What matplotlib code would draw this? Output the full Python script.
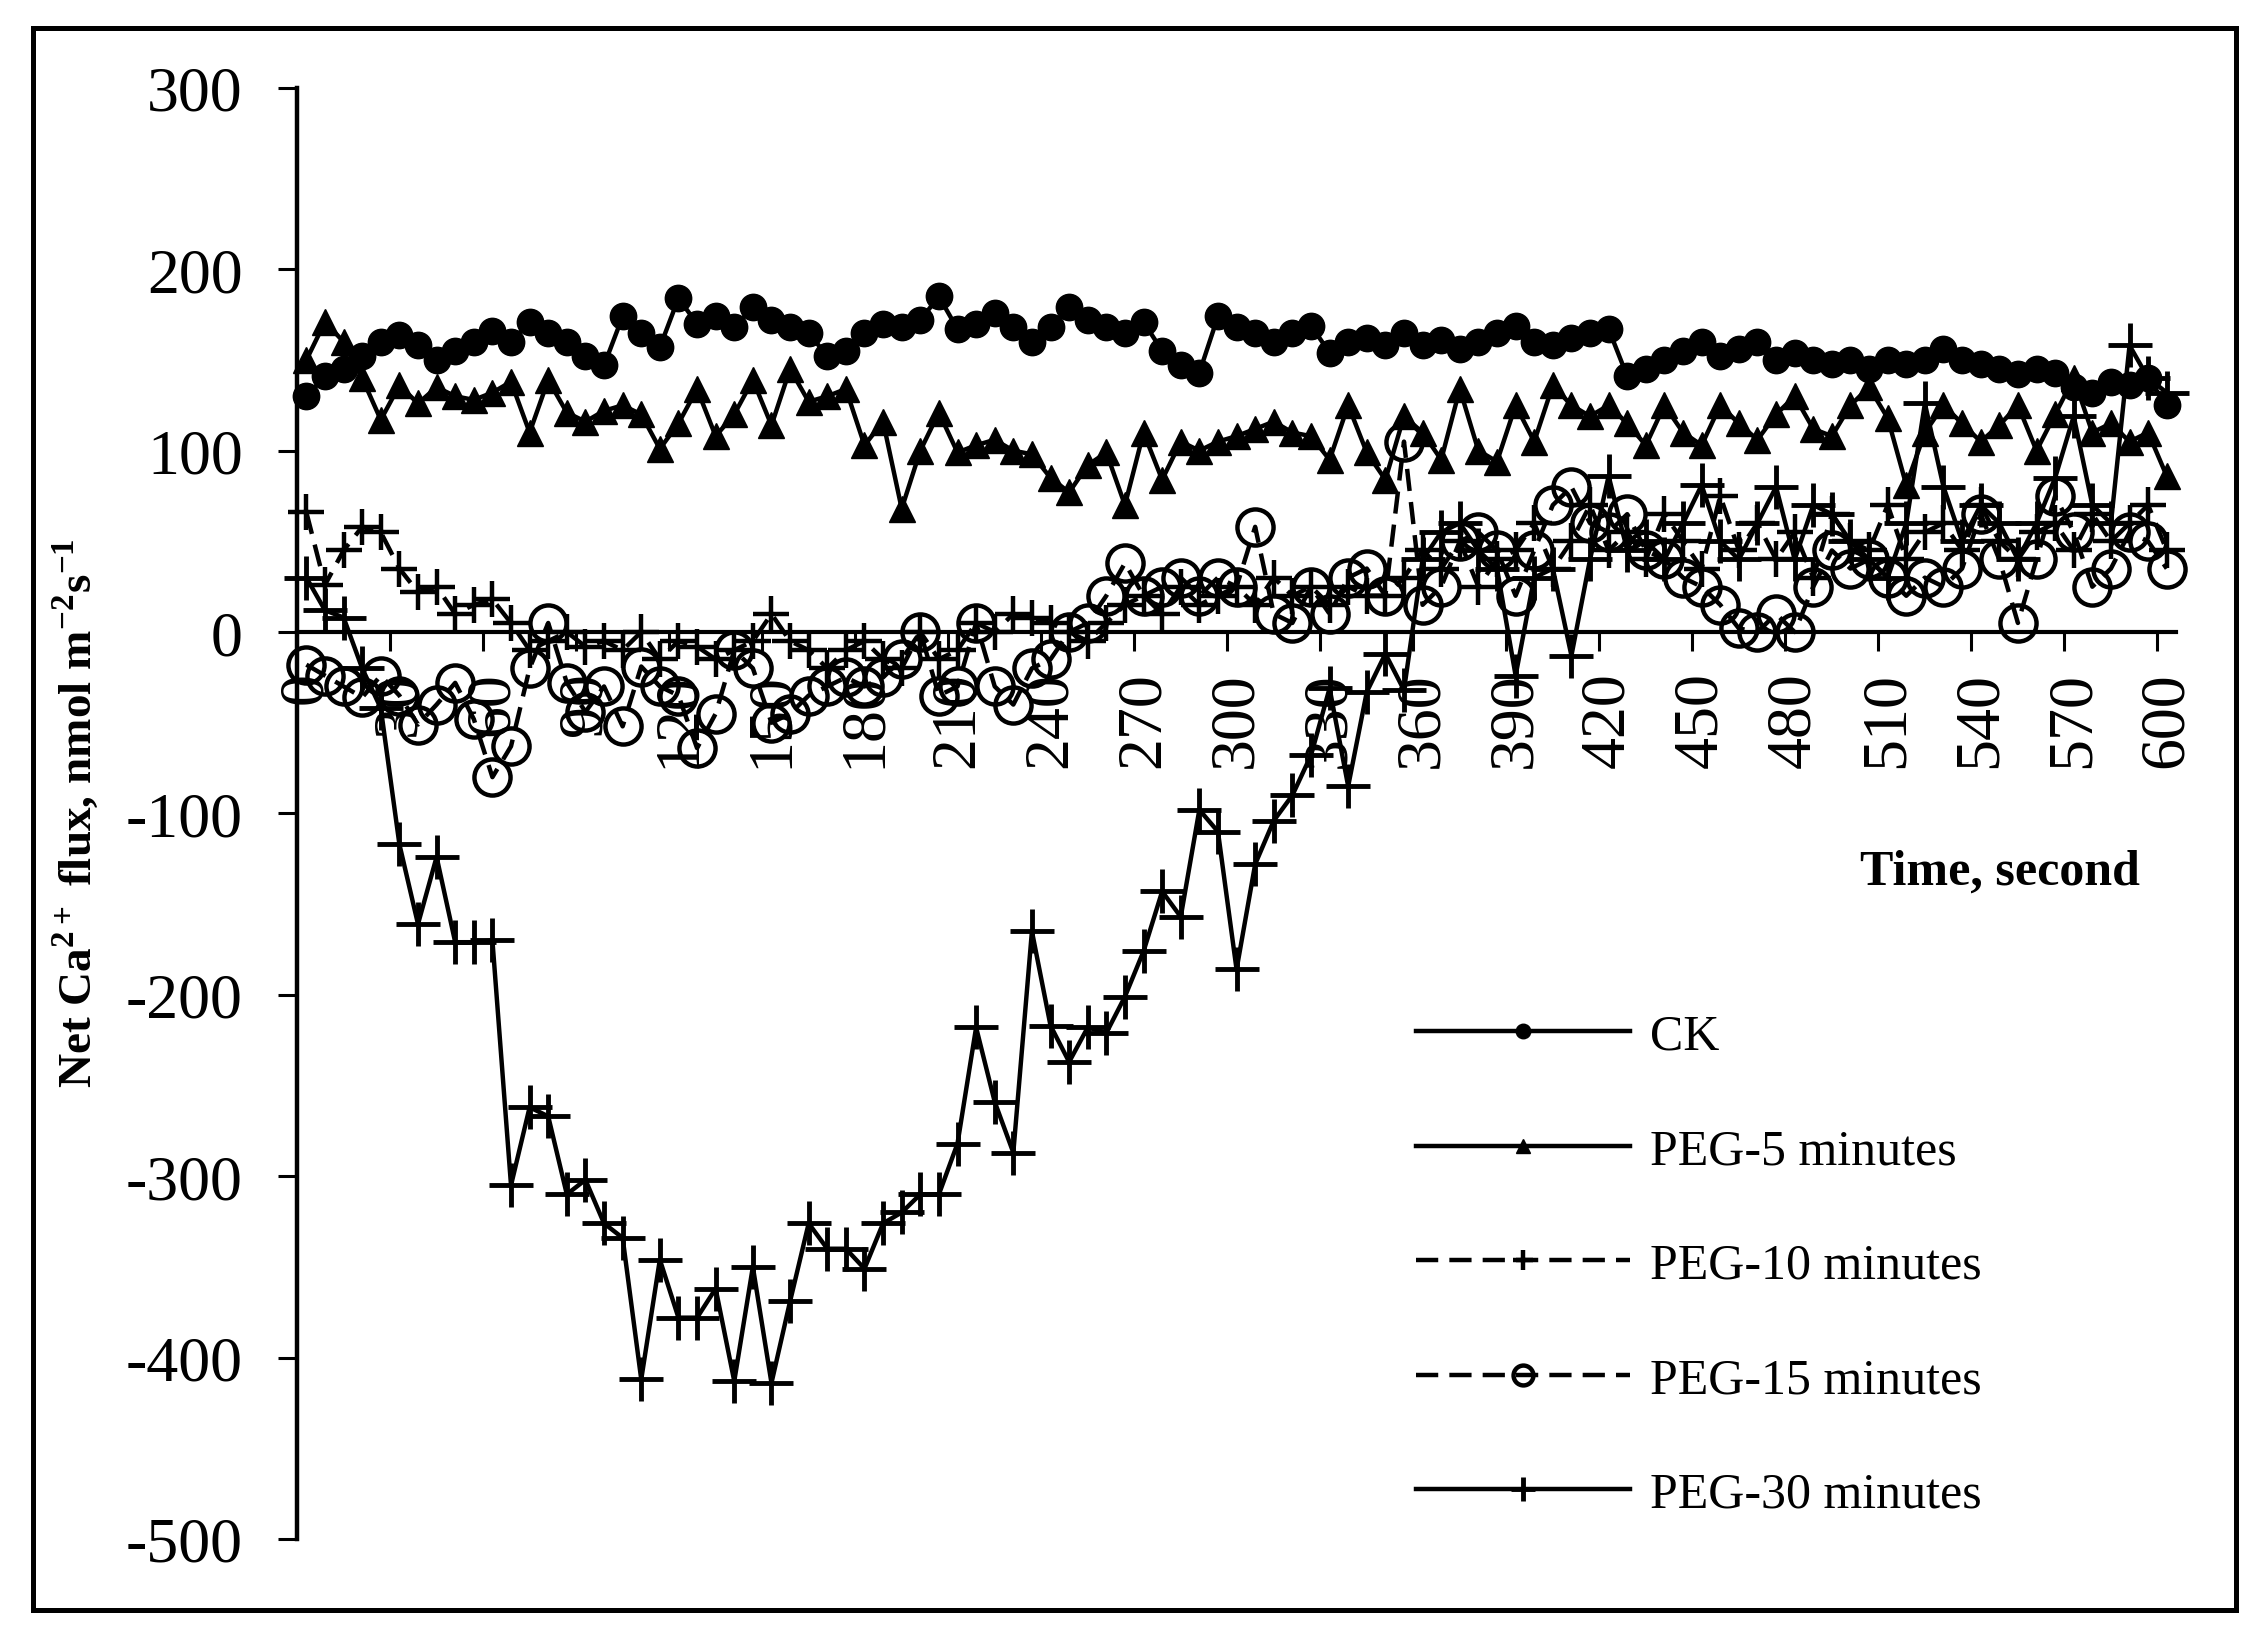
import matplotlib
matplotlib.use("Agg")
import matplotlib.pyplot as plt
from matplotlib.patches import Rectangle

# Times-like serif everywhere, also inside mathtext (superscripts)
plt.rcParams['font.family'] = 'Liberation Serif'
plt.rcParams['mathtext.fontset'] = 'custom'
plt.rcParams['mathtext.rm'] = 'Liberation Serif'
plt.rcParams['mathtext.bf'] = 'Liberation Serif:bold'

# time categories (s), one reading every 6 s
time_s = list(range(0, 601, 6))

ck = [130, 141, 145, 152, 160, 164, 158, 150, 155, 160,
      166, 160, 171, 165, 160, 152, 147, 174, 165, 157,
      184, 170, 174, 168, 179, 172, 168, 165, 152, 155,
      165, 170, 168, 172, 185, 167, 170, 176, 168, 160,
      168, 179, 172, 168, 165, 171, 155, 147, 143, 174,
      168, 165, 160, 165, 169, 154, 160, 162, 158, 165,
      158, 161, 156, 160, 165, 169, 160, 158, 162, 165,
      167, 141, 145, 150, 155, 160, 152, 156, 160, 150,
      154, 150, 148, 150, 145, 150, 148, 150, 156, 150,
      148, 145, 142, 145, 143, 135, 132, 138, 136, 140,
      125]

peg5 = [150, 171, 160, 140, 117, 136, 126, 135, 130, 128,
        132, 138, 110, 139, 121, 116, 122, 125, 120, 101,
        115, 134, 108, 120, 139, 114, 145, 127, 130, 134,
        103, 116, 68, 100, 121, 99, 103, 106, 100, 98,
        85, 77, 92, 99, 70, 110, 84, 105, 100, 105,
        108, 112, 116, 110, 108, 95, 125, 99, 84, 119,
        110, 95, 134, 100, 94, 125, 105, 136, 125, 119,
        125, 115, 103, 125, 110, 103, 125, 115, 106, 120,
        130, 112, 108, 125, 135, 118, 81, 110, 125, 115,
        105, 114, 125, 100, 120, 140, 110, 115, 105, 110,
        86]

peg10 = [66, 26, 45, 58, 55, 35, 22, 25, 10, 15,
         18, 5, -10, -5, 0, -8, -5, -10, 0, -15,
         -5, -8, -15, -10, -5, 10, -5, -10, -20, -10,
         -5, -15, -20, 0, -15, -10, 5, 0, 10, 8,
         5, 0, -5, 5, 15, 20, 10, 25, 15, 20,
         25, 15, 30, 20, 25, 15, 25, 20, 20, 30,
         45, 35, 50, 25, 40, 45, 60, 35, 50, 70,
         45, 55, 40, 65, 50, 35, 75, 45, 60, 40,
         55, 30, 65, 50, 45, 70, 40, 55, 60, 45,
         70, 50, 40, 55, 60, 45, 65, 50, 60, 70,
         45]

peg15 = [-18, -24, -30, -36, -24, -35, -51, -40, -28, -48,
         -80, -63, -20, 5, -28, -44, -30, -52, -19, -30,
         -35, -64, -45, -10, -20, -50, -45, -35, -30, -25,
         -30, -25, -15, 0, -35, -30, 5, -30, -40, -20,
         -15, 0, 5, 20, 38, 20, 25, 30, 20, 30,
         25, 58, 10, 5, 25, 10, 30, 35, 20, 105,
         15, 25, 50, 55, 45, 20, 45, 70, 80, 60,
         55, 65, 45, 40, 30, 25, 15, 2, 0, 10,
         0, 25, 45, 35, 40, 30, 20, 30, 25, 35,
         65, 40, 5, 40, 75, 55, 25, 35, 55, 50,
         35]

peg30 = [30, 12, 8, -20, -42, -117, -161, -124, -171, -171,
         -170, -305, -262, -267, -310, -302, -326, -334, -412, -346,
         -378, -378, -362, -413, -350, -414, -369, -326, -340, -340,
         -351, -326, -320, -310, -310, -282, -218, -259, -287, -165,
         -217, -237, -218, -221, -201, -176, -143, -157, -98, -110,
         -186, -128, -104, -90, -68, -31, -85, -33, -12, -32,
         40, 55, 60, 45, 35, -24, 30, 35, -13, 40,
         86, 45, 50, 40, 60, 81, 50, 40, 60, 80,
         40, 70, 65, 50, 40, 30, 60, 126, 80, 50,
         70, 60, 40, 60, 85, 119, 70, 60, 158, 140,
         132]

x_labels = [str(v) for v in range(0, 601, 30)]
y_ticks = [-500, -400, -300, -200, -100, 0, 100, 200, 300]
y_labels = [str(v) for v in y_ticks]

fig = plt.figure(figsize=(22.66, 16.4), dpi=100)
ax = fig.add_axes([0.1311, 0.0610, 0.8292, 0.8848])

dash = (0, (5, 2.5))
ax.plot(time_s, ck, color='black', lw=3.2, marker='o', ms=19, label='CK', clip_on=False)
ax.plot(time_s, peg5, color='black', lw=3.2, marker='^', ms=19, label='PEG-5 minutes', clip_on=False)
ax.plot(time_s, peg10, color='black', lw=3.2, ls=dash, marker='+', ms=26, mew=3.2,
        label='PEG-10 minutes', clip_on=False)
ax.plot(time_s, peg15, color='black', lw=3.2, ls=dash, marker='o', ms=26, mew=3.2,
        mfc='none', label='PEG-15 minutes', clip_on=False)
ax.plot(time_s, peg30, color='black', lw=3.2, marker='+', ms=31, mew=3.5,
        label='PEG-30 minutes', clip_on=False)

ax.set_xlim(-3, 603)
ax.set_ylim(-500, 300)

# axis styling: left spine + horizontal axis through zero
ax.spines['top'].set_visible(False)
ax.spines['right'].set_visible(False)
ax.spines['left'].set_linewidth(3.2)
ax.spines['bottom'].set_position(('data', 0))
ax.spines['bottom'].set_linewidth(3.0)

# category axis: tick marks between categories, labels centred on categories
ax.set_xticks([-3 + 30 * k for k in range(21)], [''] * 21)
ax.set_xticks(list(range(0, 601, 30)), x_labels, minor=True)
ax.tick_params(axis='x', which='major', direction='out', length=14, width=2.2)
ax.tick_params(axis='x', which='minor', length=0, pad=28, labelsize=46, labelrotation=90)

ax.set_yticks(y_ticks, y_labels)
ax.tick_params(axis='y', direction='out', length=14, width=2.2, pad=25, labelsize=46)

fig.text(0.0335, 0.504, r'Net Ca$^{\mathbf{2+}}$ flux, nmol m$^{\mathbf{-2}}$s$^{\mathbf{-1}}$',
         rotation=90, fontsize=34, fontweight='bold', ha='center', va='center')
fig.text(0.8826, 0.468, 'Time, second', fontsize=36, fontweight='bold', ha='center', va='center')

ax.legend(loc='upper left', bbox_to_anchor=(0.6249, 0.3817), bbox_transform=fig.transFigure,
          frameon=False, fontsize=36, handlelength=4.28, handletextpad=0.4,
          labelspacing=1.36, borderpad=0, borderaxespad=0, markerscale=0.55, numpoints=1)

# outer frame around the whole picture
fig.patches.append(Rectangle((33 / 2266, 1 - 1611 / 1640), (2236 - 33) / 2266, (1611 - 29) / 1640,
                             transform=fig.transFigure, fill=False, lw=3.6, ec='black'))

fig.savefig('out.png', dpi=100)
